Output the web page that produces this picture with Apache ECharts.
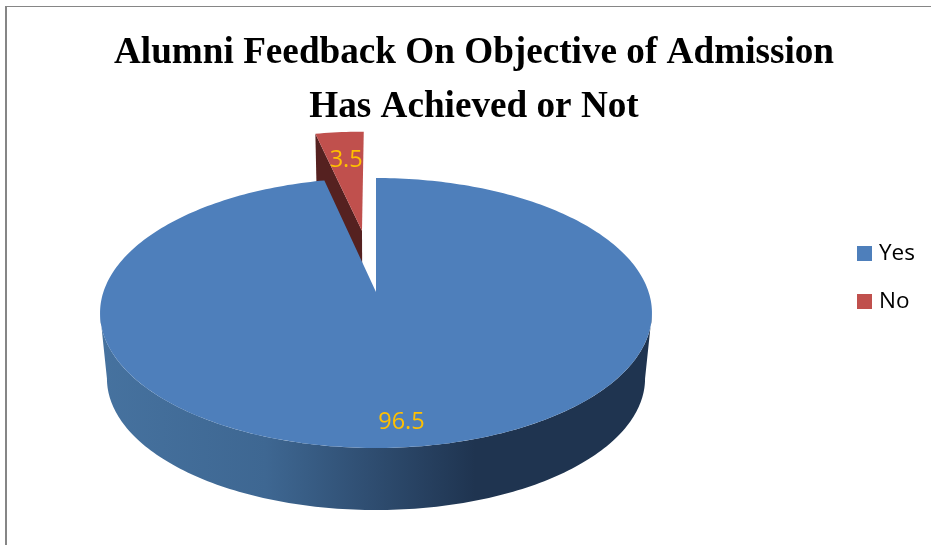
<!DOCTYPE html>
<html>
<head>
<meta charset="utf-8">
<style>html,body{margin:0;padding:0;background:#fff}#c{width:931px;height:545px}</style>
<script src="https://cdn.jsdelivr.net/npm/echarts@6/dist/echarts.min.js"></script>
</head>
<body>
<div id="c"></div>
<script>
const titleText = 'Alumni Feedback On Objective of Admission\nHas Achieved or Not';
const categories = ['Yes', 'No'];
const values = [96.5, 3.5];
const sliceColors = ['#4e7fbb', '#c0504d'];
const wallColors = ['#2f4d70', '#552120'];
const labelColor = '#ffc000';

// Perspective projection of the pie's unit disc onto the page.
const cx = 376, apexY = 292, scaleX = 272.6, scaleY = 131.7, persp = 0.1556;
const baseDrop = 66, baseScale = 0.975;
const explode = [0, 0.505];
const labelRadius = [0.855, 0.72];
const labelShift = [[-4, 1], [1, 3]];
const total = values.reduce((a, b) => a + b, 0);
const startFrac = values.map((_, i) => values.slice(0, i).reduce((a, b) => a + b, 0) / total);

function proj(u, v, base) {
  const w = 1 + persp * v;
  const s = base ? baseScale : 1;
  return [cx + s * scaleX * u / w, apexY + (base ? baseDrop : 0) - s * scaleY * v / w];
}
function sliceGeom(i, val) {
  const a0 = startFrac[i] * 2 * Math.PI, a1 = a0 + val / total * 2 * Math.PI, mid = (a0 + a1) / 2;
  return { a0, a1, mid, ox: explode[i] * Math.sin(mid), oy: explode[i] * Math.cos(mid) };
}
function topPoints(g, base) {
  const pts = [proj(g.ox, g.oy, base)];
  const n = Math.max(4, Math.ceil((g.a1 - g.a0) / 0.02));
  for (let k = 0; k <= n; k++) {
    const a = g.a0 + (g.a1 - g.a0) * k / n;
    pts.push(proj(g.ox + Math.sin(a), g.oy + Math.cos(a), base));
  }
  return pts;
}
function labelEl(i, g, val) {
  const r = labelRadius[i];
  const p = proj(g.ox + r * Math.sin(g.mid), g.oy + r * Math.cos(g.mid), false);
  return { type: 'text', x: p[0] + labelShift[i][0], y: p[1] + labelShift[i][1], style: {
    text: String(val), fill: labelColor, font: '23.5px "Open Sans"', align: 'center', verticalAlign: 'middle'
  } };
}
function renderYes(params, api) {
  const val = api.value(0), g = sliceGeom(0, val), children = [];
  // front wall between the silhouette extremes of the disc
  const a0 = Math.acos(-persp), a1 = 2 * Math.PI - a0, front = [], back = [];
  for (let k = 0; k <= 160; k++) {
    const a = a0 + (a1 - a0) * k / 160;
    front.push(proj(Math.sin(a), Math.cos(a), false));
    back.unshift(proj(Math.sin(a), Math.cos(a), true));
  }
  children.push({ type: 'polygon', shape: { points: front.concat(back) }, style: {
    fill: new echarts.graphic.LinearGradient(0, 0, 1, 0, [
      { offset: 0, color: '#46729f' }, { offset: 0.3, color: '#3e6792' },
      { offset: 0.5, color: '#2e4c6f' }, { offset: 0.68, color: '#1f3450' }, { offset: 1, color: '#1f3450' }
    ]) } });
  children.push({ type: 'polygon', shape: { points: topPoints(g, false) }, style: { fill: sliceColors[0] } });
  children.push(labelEl(0, g, val));
  return { type: 'group', children };
}
function renderNo(params, api) {
  const val = api.value(0), g = sliceGeom(1, val), children = [];
  const apexT = proj(g.ox, g.oy, false), apexB = proj(g.ox, g.oy, true);
  const cu = g.ox + Math.sin(g.a0), cv = g.oy + Math.cos(g.a0);
  children.push({ type: 'polygon', shape: { points: [apexT, proj(cu, cv, false), proj(cu, cv, true), apexB] },
    style: { fill: wallColors[1] } });
  children.push({ type: 'polygon', shape: { points: topPoints(g, false) }, style: { fill: sliceColors[1] } });
  children.push(labelEl(1, g, val));
  return { type: 'group', children };
}

const chart = echarts.init(document.getElementById('c'), null, { renderer: 'canvas' });
chart.setOption({
  animation: false,
  backgroundColor: '#fff',
  title: {
    text: titleText, left: 469, top: 21, textAlign: 'center',
    textStyle: { fontFamily: '"Liberation Serif"', fontWeight: 'bold', fontSize: 37.2, lineHeight: 54, color: '#000' }
  },
  legend: {
    orient: 'vertical', left: 857, top: 242, padding: 0, itemWidth: 15, itemHeight: 15, itemGap: 25,
    data: categories.map(name => ({ name, icon: 'rect' })),
    textStyle: { fontFamily: '"Open Sans"', fontSize: 22.5, lineHeight: 15, color: '#000', padding: [0, 0, 0, 2] }
  },
  graphic: [
    { type: 'rect', silent: true, shape: { x: 5, y: 6, width: 2, height: 539 }, style: { fill: '#868686' } },
    { type: 'rect', silent: true, shape: { x: 5, y: 6, width: 926, height: 1 }, style: { fill: '#868686' } }
  ],
  series: [
    { type: 'custom', name: categories[0], coordinateSystem: 'none', z: 3, silent: true,
      itemStyle: { color: sliceColors[0] }, renderItem: renderYes, data: [[values[0]]] },
    { type: 'custom', name: categories[1], coordinateSystem: 'none', z: 2, silent: true,
      itemStyle: { color: sliceColors[1] }, renderItem: renderNo, data: [[values[1]]] }
  ]
});
</script>
</body>
</html>
